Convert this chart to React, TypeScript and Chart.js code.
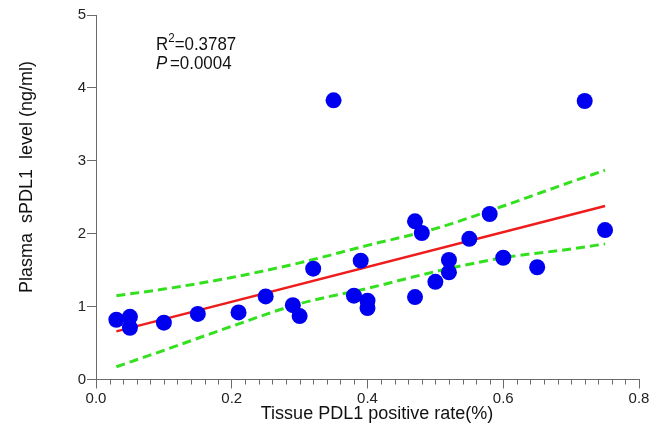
import React, { useEffect, useRef } from "react";
import { Chart, registerables } from "chart.js";

Chart.register(...registerables);

// Scatter data: tissue PDL1 positive rate vs plasma sPDL1 level
const tissueRate = [0.03, 0.05, 0.05, 0.10, 0.15, 0.21, 0.25, 0.29, 0.30, 0.32, 0.35, 0.38, 0.40, 0.40, 0.39, 0.47, 0.48, 0.47, 0.50, 0.52, 0.52, 0.55, 0.58, 0.60, 0.65, 0.72, 0.75];
const plasmaLevel = [0.82, 0.86, 0.71, 0.78, 0.90, 0.92, 1.14, 1.02, 0.87, 1.52, 3.83, 1.15, 1.08, 0.98, 1.63, 2.17, 2.01, 1.13, 1.34, 1.64, 1.47, 1.93, 2.27, 1.67, 1.54, 3.82, 2.05];

// Regression line end points
const fitX = [0.03, 0.75];
const fitY = [0.66, 2.38];

// Confidence bands
const bandX = [0.03, 0.1, 0.2, 0.3, 0.4, 0.5, 0.6, 0.7, 0.75];
const bandUpper = [1.15, 1.24, 1.40, 1.60, 1.84, 2.07, 2.38, 2.71, 2.87];
const bandLower = [0.175, 0.40, 0.73, 1.04, 1.25, 1.48, 1.67, 1.79, 1.86];

const xTicks = [0, 0.2, 0.4, 0.6, 0.8];
const yTicks = [0, 1, 2, 3, 4, 5];

const xTitle = "Tissue PDL1 positive rate(%)";
const yTitle = "Plasma  sPDL1  level (ng/ml)";
const r2Text = "0.3787";
const pText = "0.0004";

const FONT = "'Liberation Sans', Arial, Helvetica, sans-serif";
const AXIS_COLOR = "#6a6a6a";

const isMajor = (v: number) => Math.round(v * 100) % 20 === 0;

export default function App() {
  const ref = useRef<HTMLCanvasElement | null>(null);

  useEffect(() => {
    if (!ref.current) return;
    const toPts = (xs: number[], ys: number[]) => xs.map((x, i) => ({ x, y: ys[i] }));

    const extras = {
      id: "extras",
      afterDraw(chart: any) {
        const ctx = chart.ctx;
        const xs = chart.scales.x;
        const area = chart.chartArea;
        ctx.save();
        // minor x ticks
        ctx.strokeStyle = AXIS_COLOR;
        ctx.lineWidth = 1;
        for (let k = 0; k <= 40; k++) {
          const v = k * 0.02;
          if (isMajor(v)) continue;
          const px = Math.round(xs.getPixelForValue(v)) + 0.5;
          ctx.beginPath();
          ctx.moveTo(px, area.bottom);
          ctx.lineTo(px, area.bottom + 5);
          ctx.stroke();
        }
        // axis titles
        ctx.fillStyle = "#111";
        ctx.font = `18px ${FONT}`;
        ctx.textAlign = "center";
        ctx.textBaseline = "middle";
        ctx.fillText(xTitle, 377, 414);
        ctx.save();
        ctx.translate(27, 177);
        ctx.rotate(-Math.PI / 2);
        ctx.fillText(yTitle, 0, 0);
        ctx.restore();
        // annotation (slightly condensed like the reference)
        ctx.save();
        ctx.translate(156, 0);
        ctx.scale(0.89, 1);
        ctx.textAlign = "left";
        ctx.textBaseline = "alphabetic";
        let x0 = 0;
        ctx.font = `19px ${FONT}`;
        ctx.fillText("R", x0, 50);
        x0 += ctx.measureText("R").width;
        ctx.font = `13px ${FONT}`;
        ctx.fillText("2", x0, 42);
        x0 += ctx.measureText("2").width;
        ctx.font = `19px ${FONT}`;
        ctx.fillText("=" + r2Text, x0, 50);
        ctx.font = `italic 19px ${FONT}`;
        ctx.fillText("P", 0, 69);
        const x1 = ctx.measureText("P").width + 3;
        ctx.font = `19px ${FONT}`;
        ctx.fillText("=" + pText, x1, 69);
        ctx.restore();
        ctx.restore();
      },
    };

    const chart = new Chart(ref.current, {
      type: "scatter",
      data: {
        datasets: [
          {
            label: "points",
            data: toPts(tissueRate, plasmaLevel),
            backgroundColor: "#0000f0",
            borderColor: "#0000f0",
            pointRadius: 8,
            pointHoverRadius: 8,
            borderWidth: 0,
          },
          {
            label: "fit",
            type: "line",
            data: toPts(fitX, fitY),
            borderColor: "#ee1c1c",
            borderWidth: 2.5,
            pointRadius: 0,
            fill: false,
          } as any,
          {
            label: "upper",
            type: "line",
            data: toPts(bandX, bandUpper),
            borderColor: "#33e01e",
            borderWidth: 3,
            borderDash: [9, 5],
            pointRadius: 0,
            cubicInterpolationMode: "monotone",
            fill: false,
          } as any,
          {
            label: "lower",
            type: "line",
            data: toPts(bandX, bandLower),
            borderColor: "#33e01e",
            borderWidth: 3,
            borderDash: [9, 5],
            pointRadius: 0,
            cubicInterpolationMode: "monotone",
            fill: false,
          } as any,
        ],
      },
      options: {
        animation: false,
        responsive: false,
        maintainAspectRatio: false,
        layout: { padding: { left: 0, right: 19, top: 15, bottom: 0 } },
        plugins: { legend: { display: false }, tooltip: { enabled: false } },
        scales: {
          x: {
            type: "linear",
            min: 0,
            max: 0.8,
            afterBuildTicks: (scale: any) => {
              const t = [];
              for (let k = 0; k <= 40; k++) t.push({ value: k * 0.02 });
              scale.ticks = t;
            },
            afterFit: (scale: any) => {
              scale.height = 45.5;
            },
            border: { display: true, color: AXIS_COLOR, width: 1 },
            grid: {
              drawOnChartArea: false,
              drawTicks: true,
              tickLength: 9,
              tickColor: (c: any) => (c.tick && isMajor(c.tick.value) ? AXIS_COLOR : "rgba(0,0,0,0)"),
            },
            ticks: {
              autoSkip: false,
              maxRotation: 0,
              padding: 1,
              color: "#222",
              font: { family: FONT, size: 15 },
              callback: (v: any) => {
                const n = Number(v);
                if (!isMajor(n)) return "";
                const idx = xTicks.findIndex((t) => Math.abs(t - n) < 1e-6);
                return idx >= 0 ? xTicks[idx].toFixed(1) : "";
              },
            },
          },
          y: {
            type: "linear",
            min: 0,
            max: 5,
            afterBuildTicks: (scale: any) => {
              scale.ticks = yTicks.map((v) => ({ value: v }));
            },
            afterFit: (scale: any) => {
              scale.width = 96;
            },
            border: { display: true, color: AXIS_COLOR, width: 1 },
            grid: { drawOnChartArea: false, drawTicks: true, tickLength: 9, tickColor: AXIS_COLOR },
            ticks: {
              padding: 1,
              color: "#222",
              font: { family: FONT, size: 15 },
              callback: (v: any) => String(v),
            },
          },
        },
      },
      plugins: [extras],
    });
    return () => chart.destroy();
  }, []);

  return (
    <div style={{ position: "fixed", left: 0, top: 0, width: 658, height: 425, background: "#fff" }}>
      <canvas ref={ref} width={658} height={425} style={{ width: 658, height: 425, display: "block" }} />
    </div>
  );
}
